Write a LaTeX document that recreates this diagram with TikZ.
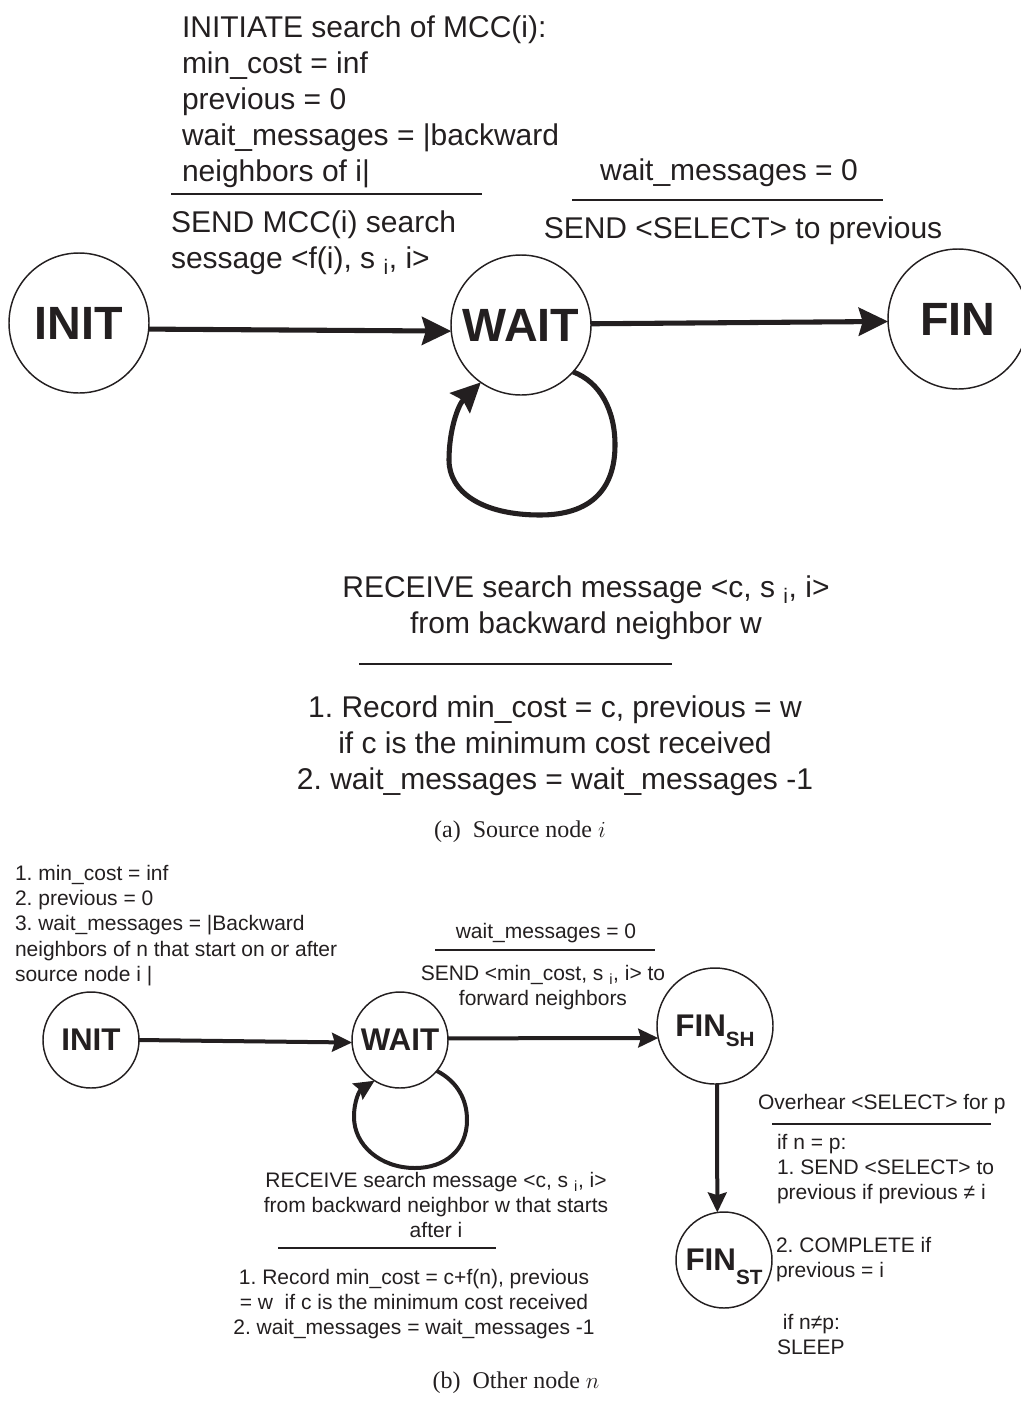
\documentclass[tikz,border=0pt]{standalone}
\usepackage{fontspec}
\setmainfont{Liberation Sans}
\newfontfamily\capfont{Liberation Serif}
\usetikzlibrary{arrows.meta}
\definecolor{ink}{HTML}{231F20}
\frenchspacing

\begin{document}
\begin{tikzpicture}[x=0.75pt,y=-0.75pt,
  every node/.style={text=ink, inner sep=0pt, outer sep=0pt},
  bigstate/.style={circle, draw=ink, line width=1.1pt, minimum size=105pt,
    text depth=0pt, font=\fontsize{35}{35}\selectfont\bfseries},
  smallstate/.style={circle, draw=ink, line width=1.1pt, minimum size=72pt,
    text depth=0pt, font=\fontsize{23.5}{23.5}\selectfont\bfseries},
  bigtxt/.style={font=\fontsize{22.5}{27}\selectfont},
  smalltxt/.style={font=\fontsize{15.75}{19}\selectfont},
  bigarrow/.style={draw=ink, line width=3.8pt, -{Stealth[length=22pt,width=21pt,inset=3pt]}},
  smallarrow/.style={draw=ink, line width=3pt, -{Stealth[length=15pt,width=14pt,inset=2pt]}},
  bigrule/.style={draw=ink, line width=2.2pt},
  smallrule/.style={draw=ink, line width=1.4pt},
  caption/.style={font=\capfont\fontsize{18}{21}\selectfont}
]
\useasboundingbox (0,0) rectangle (1021,1407);

% ---------- (a) source node ----------
\node[bigstate] (iA) at (79,323) {INIT};
\node[bigstate] (wA) at (521,325) {WAIT};
\node[bigstate] (fA) at (958,319) {FIN};

\draw[bigarrow] (iA.-5) -- (wA.185);
\draw[bigarrow] (wA.1) -- (fA.182);
\draw[bigarrow] (wA.-42) .. controls (600,382) and (615,410) .. (615,445)
  .. controls (615,490) and (590,515) .. (540,515)
  .. controls (482,515) and (449,492) .. (449,460)
  .. controls (449,430) and (458,405) .. (wA.-125);

\node[bigtxt, align=left, anchor=north west] (initA) at (182,16)
  {INITIATE search of MCC(i):\\min\_cost = inf\\previous = 0\\wait\_messages = |backward\\neighbors of i|};
\draw[bigrule] (171,194) -- (482,194);
\node[bigtxt, align=left, anchor=north west] (sendA) at (171,211)
  {SEND MCC(i) search\\sessage <f(i), s \textsubscript{i}, i>};

\node[bigtxt, anchor=north] (condA) at (729,159) {wait\_messages = 0};
\draw[bigrule] (572,200) -- (883,200);
\node[bigtxt, anchor=north] (actA) at (743,217) {SEND <SELECT> to previous};

\node[bigtxt, align=center, anchor=north] (recvA) at (586,576)
  {RECEIVE search message <c, s \textsubscript{i}, i>\\from backward neighbor w};
\draw[bigrule] (359,664) -- (672,664);
\node[bigtxt, align=center, anchor=north] (recA) at (555,696)
  {1. Record min\_cost = c, previous = w\\if c is the minimum cost received\\2. wait\_messages = wait\_messages -1};

\node[caption] (capA) at (520,832) {(a)\enspace Source node $i$};

% ---------- (b) other node ----------
\node[smallstate] (iB) at (91,1040) {INIT};
\node[smallstate] (wB) at (400,1040) {WAIT};
\node[smallstate, minimum size=87pt] (shB) at (715,1026)
  {FIN\raisebox{-7.5pt}{\fontsize{15.5}{15.5}\selectfont SH}};
\node[smallstate] (stB) at (724,1260)
  {FIN\raisebox{-10pt}{\fontsize{15.5}{15.5}\selectfont ST}};

\draw[smallarrow] (iB.0) -- (wB.183);
\draw[smallarrow] (wB.2) -- (shB.192);
\draw[smallarrow] (shB.-88) -- (stB.98);
\draw[smallarrow] (wB.-40) .. controls (458,1082) and (467,1100) .. (467,1120)
  .. controls (467,1150) and (445,1168) .. (415,1168)
  .. controls (380,1168) and (354,1145) .. (354,1117)
  .. controls (354,1100) and (360,1090) .. (wB.-122);

\node[smalltxt, align=left, anchor=north west] (initB) at (15,865)
  {1. min\_cost = inf\\2. previous = 0\\3. wait\_messages = |Backward\\neighbors of n that start on or after\\source node i |};
\node[smalltxt, anchor=north] (condB) at (546,923) {wait\_messages = 0};
\draw[smallrule] (435,950) -- (655,950);
\node[smalltxt, align=center, anchor=north] (actB) at (543,965)
  {SEND <min\_cost, s \textsubscript{i}, i> to\\forward neighbors};

\node[smalltxt, align=center, anchor=north] (recvB) at (436,1172)
  {RECEIVE search message <c, s \textsubscript{i}, i>\\from backward neighbor w that starts\\after i};
\draw[smallrule] (278,1248) -- (496,1248);
\node[smalltxt, align=center, anchor=north] (recB) at (414,1269)
  {1. Record min\_cost = c+f(n), previous\\= w\ \ if c is the minimum cost received\\2. wait\_messages = wait\_messages -1};

\node[smalltxt, anchor=north west] (ovB) at (758,1094) {Overhear <SELECT> for p};
\draw[smallrule] (772,1124) -- (991,1124);
\node[smalltxt, align=left, anchor=north west] (selB) at (777,1134)
  {if n = p:\\1. SEND <SELECT> to\\previous if previous ≠ i};
\node[smalltxt, align=left, anchor=north west] (compB) at (776,1237)
  {2. COMPLETE if\\previous = i};
\node[smalltxt, align=left, anchor=north west] (sleepB) at (777,1314)
  {\ if n≠p:\\SLEEP};

\node[caption] (capB) at (516,1383) {(b)\enspace Other node $n$};
\end{tikzpicture}
\end{document}
